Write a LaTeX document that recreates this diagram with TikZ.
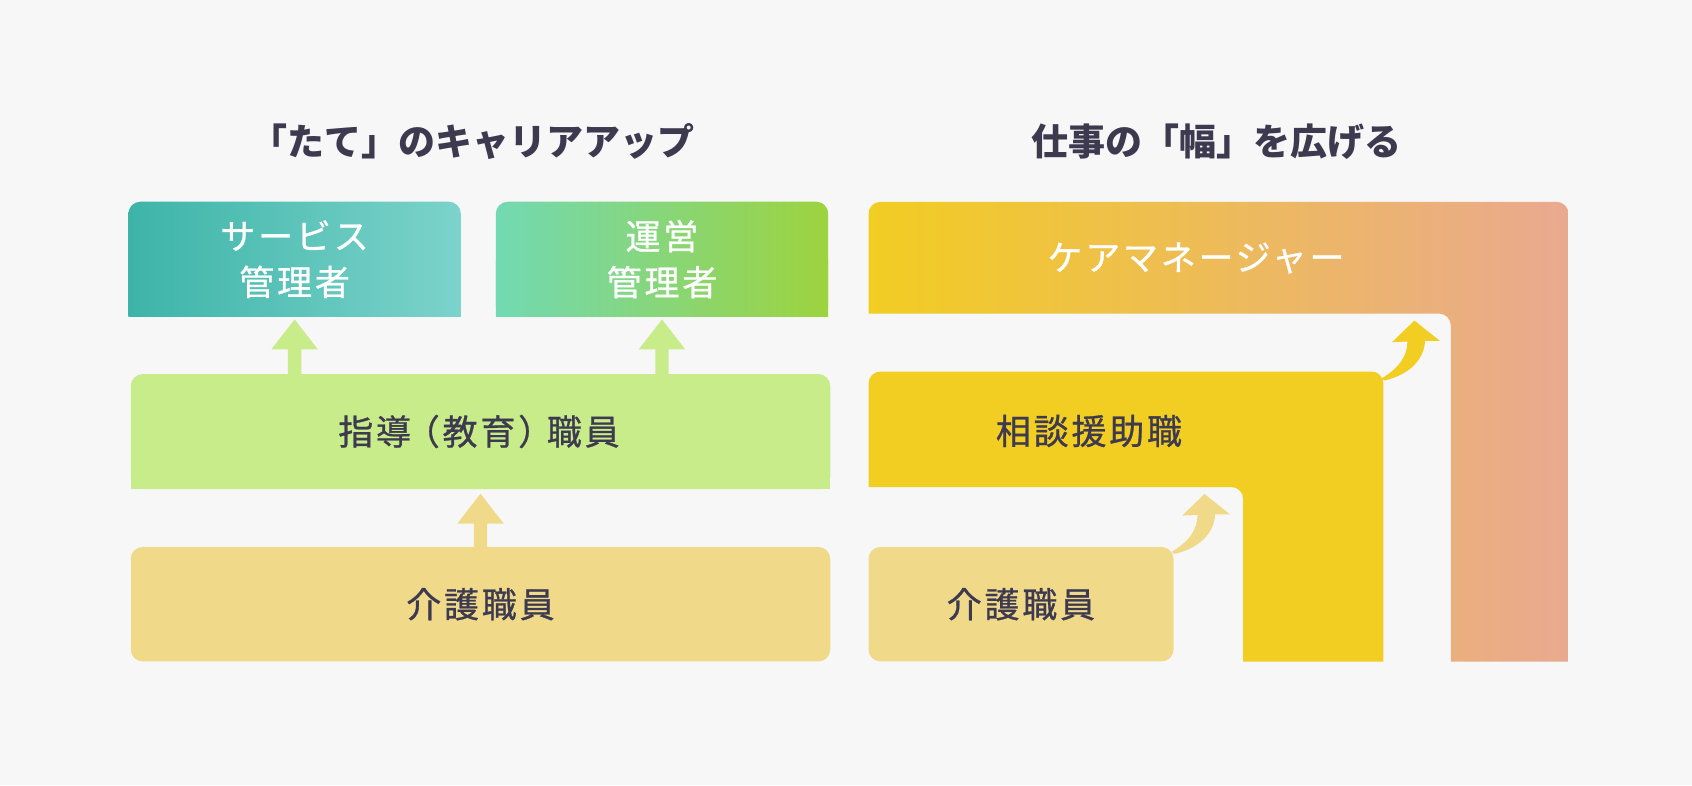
\documentclass[tikz,border=0pt]{standalone}
\usepackage{fontspec}
\usetikzlibrary{calc}
\newfontfamily\jp[LetterSpace=8,FakeBold=0.8]{Noto Sans CJK JP}
\newfontfamily\jpt{Noto Sans CJK JP}
\definecolor{bg}{HTML}{F7F7F7}
\definecolor{ink}{HTML}{3D3A50}
\definecolor{svcL}{HTML}{3DB4A8}
\definecolor{svcR}{HTML}{7CD3CB}
\definecolor{uneL}{HTML}{72D9B3}
\definecolor{uneR}{HTML}{9DD33E}
\definecolor{lgreen}{HTML}{C8EC8A}
\definecolor{sand}{HTML}{F0DA8A}
\definecolor{gold}{HTML}{F2CD22}
\definecolor{salmon}{HTML}{E9A990}
\newcommand\MyUpArrow[4]{%
  \fill[#1] let \p1=(#2.south), \p2=(#3.north) in
    (\x1-6.7pt,\y2) -- (\x1-6.7pt,\y1-#4pt-30pt) -- (\x1-23.3pt,\y1-#4pt-30pt)
    -- (\x1,\y1-#4pt) -- (\x1+23.3pt,\y1-#4pt-30pt) -- (\x1+6.7pt,\y1-#4pt-30pt)
    -- (\x1+6.7pt,\y2) -- cycle;}
\newcommand\PropParen[1]{{\addfontfeature{RawFeature=+palt}#1}}
\tikzset{
  boxbase/.style={inner sep=0pt, outer sep=0pt, rounded corners=12pt, align=center,
    font=\jp\fontsize{35}{46}\selectfont},
  darktxt/.style={text=ink},
  whitetxt/.style={text=white},
  lbl/.style={inner sep=0pt, font=\jp\fontsize{35}{46}\selectfont},
  ttl/.style={inner sep=0pt, text=ink, font=\jpt\bfseries\fontsize{37}{40}\selectfont},
  curvearrow/.pic={
    \path[pic actions] (0,0) .. controls (17,-10) and (26,-22) .. (26,-37)
      -- (10.6,-36.3) -- (33,-58) -- (58.4,-37.7) -- (43.6,-37.7)
      .. controls (43,-20) and (29,-4) .. (3,2) -- cycle;}
}
\begin{document}
\begin{tikzpicture}[x=1pt,y=-1pt]
\fill[bg] (0,0) rectangle (1692,785);

% titles
\node[ttl] (t1) at (472.6,142) {「たて」のキャリアアップ};
\node[ttl] (t2) at (1216,142) {仕事の「幅」を広げる};

% left column
\node[boxbase, left color=svcL, right color=svcR, minimum width=332.4pt, minimum height=115pt] (svcbg) at (294.6,259.2) {};
\shade[left color=svcL, right color=svcR] (svcbg.west) rectangle (svcbg.south east);
\node[lbl, whitetxt, align=center] (svc) at (svcbg.center) {サービス\\管理者};

\node[boxbase, left color=uneL, right color=uneR, minimum width=332.4pt, minimum height=115pt] (unebg) at (662,259.2) {};
\shade[left color=uneL, right color=uneR] (unebg.west) rectangle (unebg.south east);
\node[lbl, whitetxt, align=center] (une) at (unebg.center) {運営\\管理者};

\node[boxbase, fill=lgreen, minimum width=699.5pt, minimum height=115pt] (shidobg) at (480.5,431.5) {};
\fill[lgreen] (shidobg.west) rectangle (shidobg.south east);
\node[lbl, darktxt] (shido) at (479,431.5) {指導\hspace{10pt}\PropParen{（}\hspace{4pt}教育\hspace{4pt}\PropParen{）}\hspace{10pt}職員};

\node[boxbase, darktxt, fill=sand, minimum width=699.5pt, minimum height=114.5pt] (kl) at (480.5,604.2) {介護職員};

\MyUpArrow{lgreen}{svcbg}{shidobg}{2.7}
\MyUpArrow{lgreen}{unebg}{shidobg}{2.7}
\MyUpArrow{sand}{shidobg}{kl}{4.7}

% right column
\shade[left color=gold, right color=salmon]
  (868.5,313.5) -- (868.5,213.8) arc[start angle=180, end angle=90, radius=12pt]
  -- (1556.5,201.8) arc[start angle=90, end angle=0, radius=12pt]
  -- (1568.5,661.5) -- (1450.8,661.5) -- (1450.8,325.5)
  arc[start angle=0, end angle=90, radius=12pt] -- cycle;
\node[lbl, whitetxt] (cm) at (1196,258) {ケアマネージャー};

\coordinate (sdTR) at (1383.4,371.5);
\fill[gold]
  (868.5,487) -- (868.5,383.5) arc[start angle=180, end angle=90, radius=12pt]
  -- (1371.4,371.5) arc[start angle=90, end angle=0, radius=12pt]
  -- (1383.4,661.5) -- (1243.2,661.5) -- (1243.2,499)
  arc[start angle=0, end angle=90, radius=12pt] -- cycle;
\node[lbl, darktxt] (sd) at (1089,431) {相談援助職};

\node[boxbase, darktxt, fill=sand, minimum width=305pt, minimum height=114.5pt] (kr) at (1021,604.2) {介護職員};

\pic[fill=sand] at ([shift={(-2,5)}]kr.north east) {curvearrow};
\pic[fill=gold] at ([shift={(-2,7)}]sdTR) {curvearrow};
\end{tikzpicture}
\end{document}
